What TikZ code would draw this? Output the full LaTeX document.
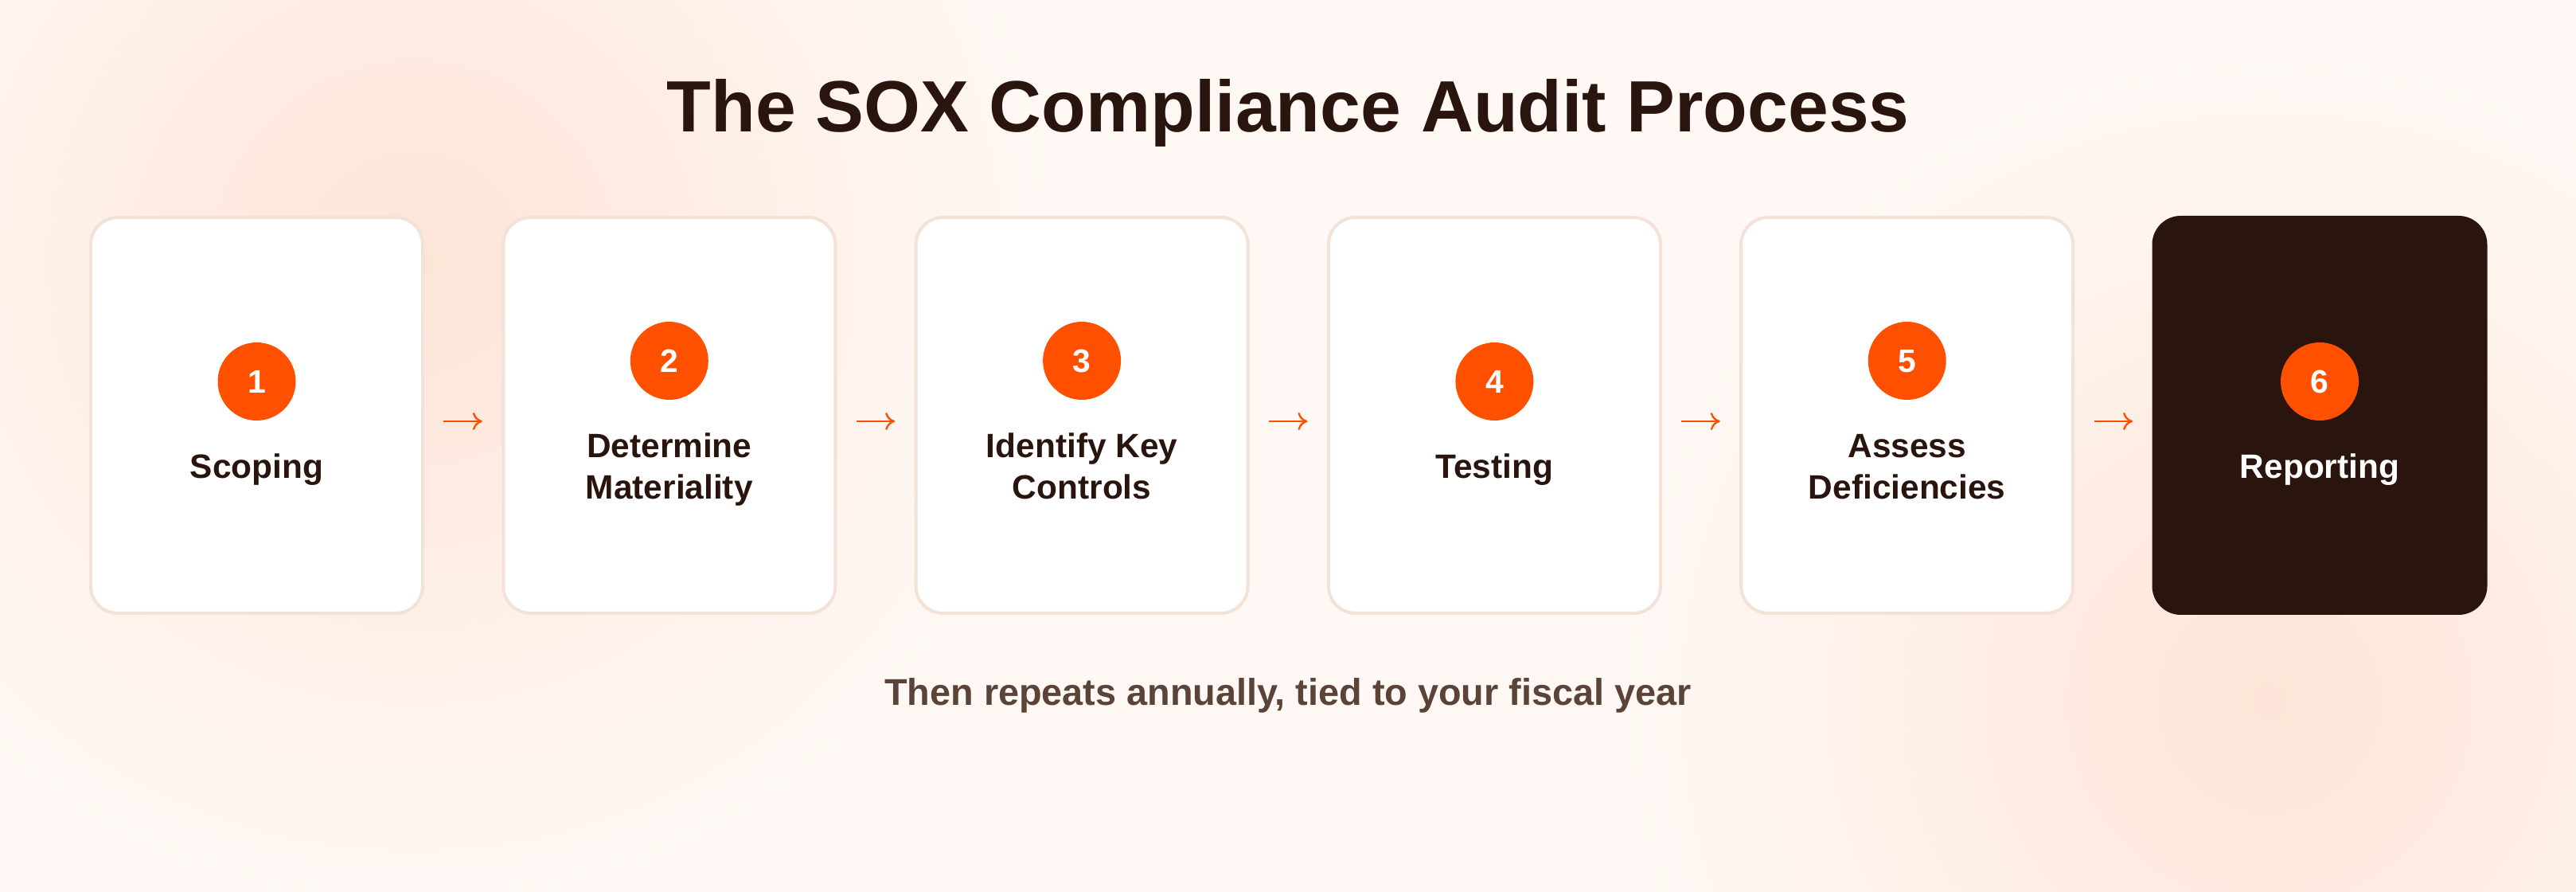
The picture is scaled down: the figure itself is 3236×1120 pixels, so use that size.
\documentclass[tikz,border=0pt]{standalone}
\usepackage{fontspec}
\setmainfont{Liberation Sans}
\usetikzlibrary{arrows.meta,calc}
\definecolor{bgc}{HTML}{FFF8F4}
\definecolor{glowc}{HTML}{FDE4D7}
\colorlet{glowa}{glowc!70!bgc}
\colorlet{glowb}{glowc!30!bgc}
\definecolor{bordc}{HTML}{F2E2D8}
\definecolor{orng}{HTML}{FF5000}
\definecolor{darkc}{HTML}{2A150E}
\definecolor{subc}{HTML}{5B4337}
\pgfdeclareradialshading{glow}{\pgfpoint{0bp}{0bp}}{color(0bp)=(glowc); color(7bp)=(glowa); color(15bp)=(glowb); color(24bp)=(bgc); color(50bp)=(bgc)}
\tikzset{
  stepbox/.style={rectangle, rounded corners=8.5pt, minimum width=104.25pt, minimum height=124.25pt, fill=white, draw=bordc, line width=1pt},
  lastbox/.style={stepbox, fill=darkc, draw=darkc},
  badge/.style={circle, fill=orng, minimum size=24.5pt, inner sep=0pt, text=white, font=\bfseries\fontsize{10.2}{12}\selectfont, text height=7.3pt, text depth=0pt},
  steplabel/.style={font=\bfseries\fontsize{10.6}{13}\selectfont, text=darkc, align=center, anchor=base, inner sep=0pt},
  flow/.style={draw=orng, line width=0.6pt, -{To[length=3pt,width=5.5pt]}, shorten <=6.1pt, shorten >=6.1pt}
}
\begin{document}
\begin{tikzpicture}[x=0.25pt,y=-0.25pt]
\useasboundingbox (0,0) rectangle (3236,1120);
\fill[bgc] (0,0) rectangle (3236,1120);
\begin{scope}
  \clip (0,0) rectangle (3236,1120);
  \shade[shading=glow] (520,330) circle[radius=850];
  \shade[shading=glow] (2850,880) circle[radius=850];
\end{scope}

\node[font=\bfseries\fontsize{22.8}{26}\selectfont, text=darkc, anchor=base, inner sep=0pt] (title) at (1618,166) {The SOX Compliance Audit Process};

\node[stepbox] (b1) at (322.5,521.5) {};
\node[stepbox] (b2) at (840.8,521.5) {};
\node[stepbox] (b3) at (1359.1,521.5) {};
\node[stepbox] (b4) at (1877.4,521.5) {};
\node[stepbox] (b5) at (2395.7,521.5) {};
\node[lastbox] (b6) at (2914,521.5) {};

\node[badge] (n1) at (322.5,479) {1};
\node[badge] (n2) at (840.8,453) {2};
\node[badge] (n3) at (1359.1,453) {3};
\node[badge] (n4) at (1877.4,479) {4};
\node[badge] (n5) at (2395.7,453) {5};
\node[badge] (n6) at (2914,479) {6};

\node[steplabel] (l1) at (322.5,601) {Scoping};
\node[steplabel] (l2) at (840.8,627) {Determine\\Materiality};
\node[steplabel] (l3) at (1359.1,627) {Identify Key\\Controls};
\node[steplabel] (l4) at (1877.4,601) {Testing};
\node[steplabel] (l5) at (2395.7,627) {Assess\\Deficiencies};
\node[steplabel, text=white] (l6) at (2914,601) {Reporting};

\draw[flow] ($(b1.east)+(0,7.5)$) -- ($(b2.west)+(0,7.5)$);
\draw[flow] ($(b2.east)+(0,7.5)$) -- ($(b3.west)+(0,7.5)$);
\draw[flow] ($(b3.east)+(0,7.5)$) -- ($(b4.west)+(0,7.5)$);
\draw[flow] ($(b4.east)+(0,7.5)$) -- ($(b5.west)+(0,7.5)$);
\draw[flow] ($(b5.east)+(0,7.5)$) -- ($(b6.west)+(0,7.5)$);

\node[font=\bfseries\fontsize{11.7}{14}\selectfont, text=subc, anchor=base, inner sep=0pt] (sub) at (1618,886) {Then repeats annually, tied to your fiscal year};
\end{tikzpicture}
\end{document}
